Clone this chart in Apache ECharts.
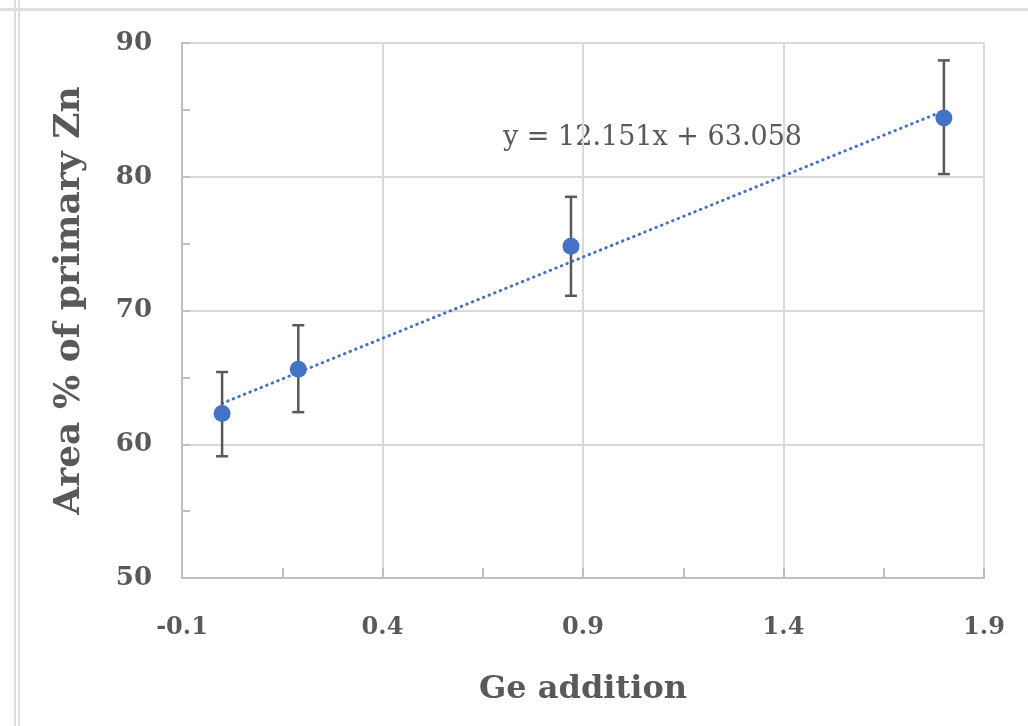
<!DOCTYPE html>
<html>
<head>
<meta charset="utf-8">
<script src="https://cdn.jsdelivr.net/npm/echarts@6/dist/echarts.min.js"></script>
<style>
  html, body { margin: 0; padding: 0; background: #fff; }
  #wrap { position: relative; width: 1028px; height: 726px; overflow: hidden; }
  #chart { position: absolute; left: 0; top: 0; width: 1028px; height: 726px; }
  .frame { position: absolute; background: #dedede; }
</style>
</head>
<body>
<div id="wrap">
  <div class="frame" style="left:0;top:8px;width:1028px;height:3px;"></div>
  <div class="frame" style="left:14px;top:0;width:2px;height:726px;"></div>
  <div class="frame" style="left:18px;top:0;width:2px;height:726px;"></div>
  <div id="chart"></div>
</div>
<script>
// Ge addition vs area % of primary Zn
const geAddition = [0, 0.19, 0.87, 1.8];
const areaPct = [62.3, 65.6, 74.8, 84.4];
const errLow = [59.1, 62.4, 71.1, 80.2];
const errHigh = [65.4, 68.9, 78.5, 88.7];
// trendline end points, y = 12.151x + 63.058
const trendX = [0, 1.8];
const trendY = [63.058, 84.93];
const trendLabel = 'y = 12.151x + 63.058';

const blue = '#4472C4';
const grey = '#595959';
const serif = '"DejaVu Serif", "Liberation Serif", serif';

let chart = echarts.init(document.getElementById('chart'), null, {width: 1028, height: 726});

let option = {
    animation: false,
    grid: {
        left: 182,
        right: 44,
        top: 43,
        bottom: 148
    },
    xAxis: {
        type: 'value',
        min: -0.1,
        max: 1.9,
        interval: 0.5,
        name: 'Ge addition',
        nameLocation: 'middle',
        nameGap: 96,
        nameTextStyle: {
            fontFamily: serif,
            fontWeight: 'bold',
            fontSize: 32,
            color: grey
        },
        axisLine: { onZero: false, lineStyle: { color: '#bfbfbf', width: 2 } },
        axisTick: { show: true, inside: true, length: 10, lineStyle: { color: '#bfbfbf', width: 2 } },
        minorTick: { show: true, splitNumber: 2, length: 10, lineStyle: { color: '#bfbfbf', width: 2 } },
        splitLine: { show: true, lineStyle: { color: '#d9d9d9', width: 2 } },
        axisLabel: {
            margin: 38,
            fontFamily: serif,
            fontWeight: 'bold',
            fontSize: 24,
            color: grey,
            formatter: function (v) { return (Math.round(v * 10) / 10).toFixed(1); }
        }
    },
    yAxis: {
        type: 'value',
        min: 50,
        max: 90,
        interval: 10,
        name: 'Area % of primary Zn',
        nameLocation: 'middle',
        nameGap: 94,
        nameTextStyle: {
            fontFamily: serif,
            fontWeight: 'bold',
            fontSize: 36,
            color: grey,
            padding: [0, 0, 0, 20]
        },
        axisLine: { show: true, onZero: false, lineStyle: { color: '#bfbfbf', width: 2 } },
        axisTick: { show: true, inside: true, length: 8, lineStyle: { color: '#bfbfbf', width: 2 } },
        minorTick: { show: true, splitNumber: 2, length: 8, lineStyle: { color: '#bfbfbf', width: 2 } },
        splitLine: { show: true, lineStyle: { color: '#d9d9d9', width: 2 } },
        axisLabel: {
            margin: 30,
            fontFamily: serif,
            fontWeight: 'bold',
            fontSize: 26,
            color: grey
        }
    },
    graphic: [{
        type: 'text',
        left: 503,
        top: 124,
        style: {
            text: trendLabel,
            fontFamily: serif,
            fontSize: 27,
            fill: grey
        }
    }],
    series: [
        {
            name: 'trend',
            type: 'line',
            data: trendX.map((x, i) => [x, trendY[i]]),
            symbol: 'none',
            z: 2,
            lineStyle: { color: blue, width: 3, type: [0.5, 5.5], cap: 'round' }
        },
        {
            name: 'error',
            type: 'custom',
            z: 3,
            data: geAddition.map((x, i) => [x, errLow[i], errHigh[i]]),
            renderItem: function (params, api) {
                let lo = api.coord([api.value(0), api.value(1)]);
                let hi = api.coord([api.value(0), api.value(2)]);
                let half = 6;
                let style = { stroke: grey, lineWidth: 2.5 };
                return {
                    type: 'group',
                    children: [
                        { type: 'line', shape: { x1: lo[0], y1: lo[1], x2: hi[0], y2: hi[1] }, style: style },
                        { type: 'line', shape: { x1: lo[0] - half, y1: lo[1], x2: lo[0] + half, y2: lo[1] }, style: style },
                        { type: 'line', shape: { x1: hi[0] - half, y1: hi[1], x2: hi[0] + half, y2: hi[1] }, style: style }
                    ]
                };
            }
        },
        {
            name: 'data',
            type: 'scatter',
            z: 4,
            symbol: 'circle',
            symbolSize: 17,
            itemStyle: { color: blue, opacity: 1 },
            data: geAddition.map((x, i) => [x, areaPct[i]])
        }
    ]
};
chart.setOption(option);
</script>
</body>
</html>
